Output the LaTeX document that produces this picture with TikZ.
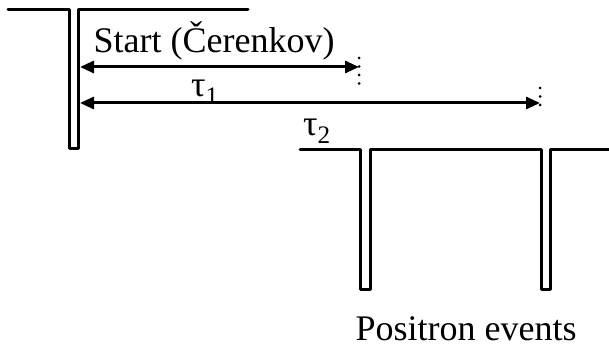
\documentclass[tikz,border=0pt]{standalone}
\usepackage{fontspec}
\setmainfont{Liberation Serif}
\usetikzlibrary{arrows.meta,positioning,calc}
\tikzset{
  pulse/.style={line width=3pt,line join=round,line cap=round},
  span/.style={line width=3pt,{Triangle[length=14pt,width=12pt]}-{Triangle[length=14pt,width=12pt]}},
  marker/.style={line width=3pt,line cap=round,dash pattern=on 0pt off 8.5pt},
  lbl/.style={inner sep=0pt,font=\fontsize{36}{40}\selectfont}
}

\begin{document}
\begin{tikzpicture}[x=1pt,y=-1pt]
\useasboundingbox (0,0) rectangle (609,347);
% start pulse
\draw[pulse] (8,10) -- (69,10) -- (69,149) -- (78,149) -- (78,10) -- (248,10);
% positron pulses
\draw[pulse] (300,150) -- (360,150) -- (360,289) -- (370,289) -- (370,150)
  -- (541,150) -- (541,289) -- (550,289) -- (550,150) -- (610,150);

\coordinate (s1) at (80,67);
\coordinate (e1) at (359,67);
\coordinate (s2) at (80,103);
\coordinate (e2) at (540,103);

\draw[span] (s1) -- (e1);
\draw[span] (s2) -- (e2);
\draw[marker] ($(e1)+(0,-9)$) -- ($(e1)+(0,18)$);
\draw[marker] ($(e2)+(0,-15)$) -- ($(e2)+(0,10)$);

\node[lbl] (start) at (214,41) {Start (Čerenkov)};
\node[lbl] (tau1) at (205,92) {τ\textsubscript{1}};
\node[lbl] (tau2) at (317,131) {τ\textsubscript{2}};
\node[lbl] (pos) at (466,329) {Positron events};
\end{tikzpicture}
\end{document}
